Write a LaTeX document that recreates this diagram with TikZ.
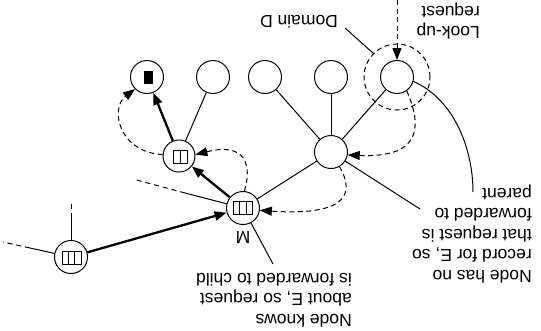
\documentclass[tikz,border=0pt]{standalone}
\usepackage{fontspec}
\setmainfont{Liberation Sans}
\newfontfamily\labelfont{Liberation Sans}
\usetikzlibrary{arrows.meta}

\begin{document}
\begin{tikzpicture}[x=1pt,y=-1pt,
  peer/.style={circle,draw,line width=1pt,minimum size=33pt,inner sep=0pt},
  tree/.style={line width=1pt},
  farline/.style={line width=1pt,dash pattern=on 5pt off 4pt},
  fwd/.style={line width=2.3pt,-{Triangle[length=12pt,width=9pt]}},
  hop/.style={line width=1pt,dash pattern=on 5pt off 3.5pt,-{Triangle[length=12pt,width=9pt]}},
  lbl/.style={rotate=180,inner sep=0pt,font=\labelfont\fontsize{17.5}{20.5}\selectfont,align=left},
  cell/.style={line width=0.9pt}]
\useasboundingbox (0,0) rectangle (541,330);

% domain boundary
\node[circle,draw,line width=1pt,dash pattern=on 5pt off 3.5pt,minimum size=66pt,inner sep=0pt] (dom) at (397,77) {};

% peers
\node[peer] (A) at (147,77) {};
\node[peer] (B) at (213,77) {};
\node[peer] (C) at (265,77) {};
\node[peer] (D) at (331,77) {};
\node[peer] (E) at (397,77) {};
\node[peer] (P) at (331,152) {};
\node[peer,minimum size=32pt] (Q) at (179,156) {};
\node[peer] (M) at (243,208) {};
\node[peer] (L) at (71,257) {};

% record glyphs inside the peers
\fill (143.5,70.5) rectangle (152.5,83.5);
\draw[cell] (173,150) rectangle (187,163) (180,150) -- (180,163);
\draw[cell] (233.5,201.5) rectangle (252.5,214.5)
  (239.8,201.5) -- (239.8,214.5) (246.2,201.5) -- (246.2,214.5);
\draw[cell] (62,251.5) rectangle (81,264.5)
  (68.3,251.5) -- (68.3,264.5) (74.7,251.5) -- (74.7,264.5);

% tree edges
\draw[tree] (Q) -- (B);
\draw[tree] (M) -- (P);
\draw[tree] (P) -- (C);
\draw[tree] (P) -- (D);
\draw[tree] (P) -- (E);

% edges leaving the drawing
\coordinate (Lu1) at (71,213);
\coordinate (Lu2) at (71,200);
\draw[tree] (L) -- (Lu1);
\draw[tree,dash pattern=on 0pt off 4pt on 5pt off 10pt] (Lu1) -- (Lu2);
\coordinate (Ll1) at (30,248);
\coordinate (Ll2) at (3,242);
\draw[tree] (L) -- (Ll1);
\draw[farline] (Ll1) -- (Ll2);
\coordinate (Ml1) at (185,193);
\coordinate (Ml2) at (133,179);
\draw[tree] (M) -- (Ml1);
\draw[farline] (Ml1) -- (Ml2);
\coordinate (Pp) at (420,209);
\draw[tree] (P) -- (Pp);
\coordinate (Mp) at (273,264);
\draw[tree] (M) -- (Mp);

% forwarding towards the child that knows about E
\draw[fwd] (L) -- (M);
\draw[fwd] (M) -- (Q);
\draw[fwd] (Q) -- (A);

% look-up hops
\coordinate (src) at (397,0);
\draw[hop] (src) -- (E);
\draw[hop] (E.-55) .. controls (424,130) and (418,158) .. (P.-10);
\draw[hop] (P.-60) .. controls (356,195) and (345,216) .. (M.-8);
\draw[hop] (M.85) .. controls (252,165) and (246,142) .. (Q.5);
\draw[hop] (Q.175) .. controls (118,152) and (110,108) .. (A.-135);

% labels and leaders
\node[lbl] (dtxt) at (299,22) {Domain D};
\coordinate (dl) at (345,28);
\draw[tree] (dl) -- (dom.135);
\node[lbl,anchor=west] (ltxt) at (480,21) {Look-up\\request};
\coordinate (el) at (473,192);
\draw[tree] (E.-15) .. controls (455,100) and (473,150) .. (el);
\node[lbl,anchor=west] (ptxt) at (532,234) {Node has no\\record for E, so\\that request is\\forwarded to\\parent};
\node[lbl,anchor=west] (ctxt) at (352,300) {Node knows\\about E, so request\\is forwarded to child};
\node[lbl] (mtxt) at (243,238) {M};
\end{tikzpicture}
\end{document}
